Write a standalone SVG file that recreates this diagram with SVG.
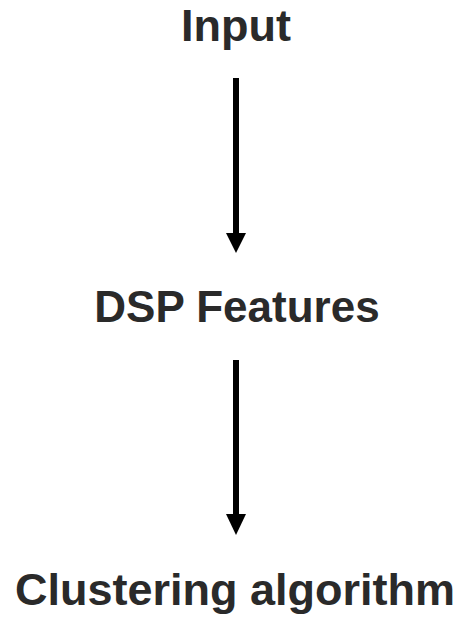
<svg xmlns="http://www.w3.org/2000/svg" width="462" height="617" viewBox="0 0 462 617">
<style>
.t{font-family:"Liberation Sans",Arial,sans-serif;font-weight:bold;fill:#2a2a2a;text-anchor:middle}
.c{stroke:#000;stroke-width:6;fill:none}
</style>
<defs>
<marker id="ah" markerUnits="userSpaceOnUse" markerWidth="20" markerHeight="20" refX="10" refY="20" orient="auto" viewBox="0 0 20 20">
<path d="M0,0 L20,0 L10,20 Z" fill="#000" transform="rotate(-90 10 10)"/>
</marker>
</defs>
<rect width="462" height="617" fill="#fff"/>
<g id="input"><text class="t" x="236" y="41" font-size="45">Input</text></g>
<g id="dsp"><text class="t" x="237" y="322" font-size="44">DSP Features</text></g>
<g id="cluster"><text class="t" x="235" y="605" font-size="45">Clustering algorithm</text></g>
<g id="connectors">
<line class="c" x1="236" y1="78" x2="236" y2="236"/>
<path d="M226,233 L246,233 L236,253 Z" fill="#000"/>
<line class="c" x1="236" y1="360" x2="236" y2="517"/>
<path d="M226,514 L246,514 L236,535 Z" fill="#000"/>
</g>
</svg>
